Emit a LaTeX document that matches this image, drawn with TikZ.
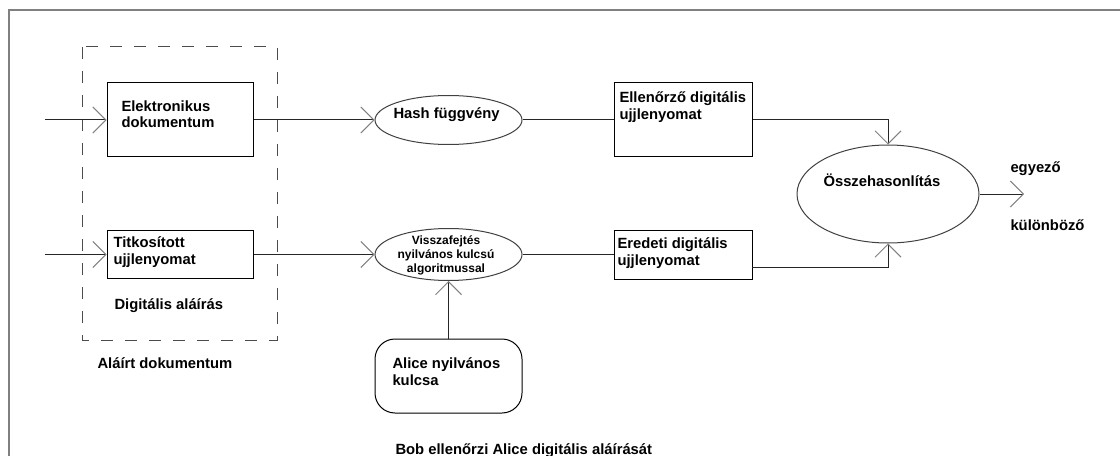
\documentclass[tikz,border=0pt]{standalone}
\usepackage{fontspec}
\setmainfont{Liberation Sans}
\usetikzlibrary{shapes.geometric,arrows.meta}
\newcommand{\pxu}{0.75pt}

\begin{document}
\begin{tikzpicture}[x=\pxu,y=-\pxu,line width=\pxu,
   box/.style={draw=black,rectangle,inner sep=0pt},
   oval/.style={draw=black!75,ellipse,inner sep=0pt},
   txt/.style={inner sep=0pt,anchor=base west,align=left,font=\fontsize{11.1}{12.75}\selectfont\bfseries},
   small/.style={inner sep=0pt,anchor=base,align=center,font=\fontsize{9}{10.5}\selectfont\bfseries},
   link/.style={draw=black!85},
   arr/.style={link,-{Straight Barb[length=13*\pxu,width=26*\pxu,color=black!50]}}]
   \useasboundingbox (0,0) rectangle (1120,456);
   % frame, only top and left edge visible
   \draw[black!50,line width=1.5pt] (8.5,456) -- (8.5,10.5) -- (1120,10.5);
   % signed document
   \draw[black!70,dash pattern=on 9pt off 9pt] (82,47) rectangle (277,340);
   \node[box,minimum width=146*\pxu,minimum height=74*\pxu] (elek) at (180,120) {};
   \node[box,minimum width=146*\pxu,minimum height=48*\pxu] (tit) at (180,254.5) {};
   % boxes and ovals
   \node[oval,minimum width=147*\pxu,minimum height=49*\pxu] (hash) at (448.5,120) {};
   \node[oval,minimum width=147*\pxu,minimum height=52*\pxu] (vissza) at (448.5,254.5) {};
   \node[box,rounded corners=15pt,minimum width=147*\pxu,minimum height=74*\pxu] (alice) at (448.5,376) {};
   \node[box,minimum width=138*\pxu,minimum height=74*\pxu] (ellen) at (683,120) {};
   \node[box,minimum width=138*\pxu,minimum height=49*\pxu] (ered) at (683,254.5) {};
   \node[oval,minimum width=182*\pxu,minimum height=98*\pxu] (cmp) at (888,194) {};
   % connectors
   \coordinate (in1) at (45,120);
   \coordinate (in2) at (45,254.5);
   \coordinate (eredout) at (752,267);
   \coordinate (out) at (1024,194);
   \draw[arr] (in1) -- (elek.west);
   \draw[arr] (elek.east) -- (hash.west);
   \draw[link] (hash.east) -- (ellen.west);
   \draw[arr] (ellen.east) -| (cmp.north);
   \draw[arr] (in2) -- (tit.west);
   \draw[arr] (tit.east) -- (vissza.west);
   \draw[link] (vissza.east) -- (ered.west);
   \draw[arr] (eredout) -| (cmp.south);
   \draw[arr] (alice.north) -- (vissza.south);
   \draw[arr] (cmp.east) -- (out);
   % texts (base = last line)
   \node[txt] (elektxt) at (121,128) {Elektronikus\\dokumentum};
   \node[txt] (tittxt) at (113,264) {Titkosított\\ujjlenyomat};
   \node[txt] (digtxt) at (114,309) {Digitális aláírás};
   \node[txt] (alairt) at (97,368) {Aláírt dokumentum};
   \node[txt] (hashtxt) at (393,119) {Hash függvény};
   \node[small] (visszatxt) at (446,272) {Visszafejtés\\nyilvános kulcsú\\algoritmussal};
   \node[txt] (alicetxt) at (392,385) {Alice nyilvános\\kulcsa};
   \node[txt] (ellentxt) at (619,120) {Ellenőrző digitális\\ujjlenyomat};
   \node[txt] (eredtxt) at (617,265) {Eredeti digitális\\ujjlenyomat};
   \node[txt] (cmptxt) at (823,186) {Összehasonlítás};
   \node[txt] (egy) at (1010,172) {egyező};
   \node[txt] (kul) at (1010,230) {különböző};
   \node[txt] (bob) at (395,454) {Bob ellenőrzi Alice digitális aláírását};
  \end{tikzpicture}
\end{document}
